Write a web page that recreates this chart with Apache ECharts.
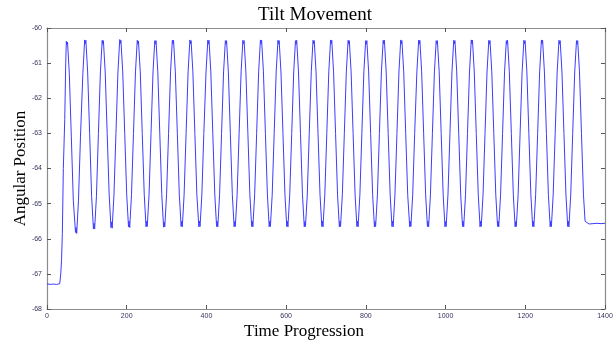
<!DOCTYPE html>
<html>
<head>
<meta charset="utf-8">
<script src="https://cdn.jsdelivr.net/npm/echarts@6/dist/echarts.min.js"></script>
<style>
  html, body { margin: 0; padding: 0; background: #fff; }
  #chart { width: 615px; height: 345px; }
</style>
</head>
<body>
<div id="chart"></div>
<script>
// time samples (x) and tilt angle (y), one line per oscillation
const time = [
  0, 8, 16, 24, 32, 34.5, 36.5, 38.5, 41, 44.5, 47,
  48.5, 50, 51.5, 56, 61, 66, 71.5, 73, 74.5, 79, 84, 90,
  94.5, 96, 97.5, 102, 107, 112, 116.5, 118, 119.5, 124, 129, 134,
  138.5, 140, 141.5, 146, 151, 156, 160.5, 162, 163.5, 168, 173, 178,
  182.5, 184, 185.5, 190, 195, 200, 204.5, 206, 207.5, 212, 217, 222,
  226.5, 228, 229.5, 234, 239, 244, 248.5, 250, 251.5, 256, 261, 266,
  270.5, 272, 273.5, 278, 283, 288, 292.5, 294, 295.5, 300, 305, 310,
  314.5, 316, 317.5, 322, 327, 332, 336.5, 338, 339.5, 344, 349, 354,
  358.5, 360, 361.5, 366, 371, 376, 381, 382.5, 384, 388.5, 393.5, 399,
  403.5, 405, 406.5, 411, 416, 421, 425.5, 427, 428.5, 433, 438, 443,
  447.5, 449, 450.5, 455, 460, 465, 469.5, 471, 472.5, 477, 482, 487,
  491.5, 493, 494.5, 499, 504, 509, 513.5, 515, 516.5, 521, 526, 531,
  535.5, 537, 538.5, 543, 548, 553, 557.5, 559, 560.5, 565, 570, 575,
  579.5, 581, 582.5, 587, 592, 597, 601.5, 603, 604.5, 609, 614, 619,
  623.5, 625, 626.5, 631, 636, 641, 645.5, 647, 648.5, 653, 658, 663,
  667.5, 669, 670.5, 675, 680, 685, 689.5, 691, 692.5, 697, 702, 707,
  711.5, 713, 714.5, 719, 724, 729, 733.5, 735, 736.5, 741, 746, 751,
  755.5, 757, 758.5, 763, 768, 773, 777.5, 779, 780.5, 785, 790, 795,
  799.5, 801, 802.5, 807, 812, 817, 821.5, 823, 824.5, 829, 834, 839,
  843.5, 845, 846.5, 851, 856, 861, 865.5, 867, 868.5, 873, 878, 883,
  887.5, 889, 890.5, 895, 900, 905, 910, 911.5, 913, 917.5, 922.5, 928,
  932.5, 934, 935.5, 940, 945, 950, 954.5, 956, 957.5, 962, 967, 972,
  976.5, 978, 979.5, 984, 989, 994, 998.5, 1000, 1001.5, 1006, 1011, 1016,
  1020.5, 1022, 1023.5, 1028, 1033, 1038, 1042.5, 1044, 1045.5, 1050, 1055, 1060,
  1064.5, 1066, 1067.5, 1072, 1077, 1082, 1086.5, 1088, 1089.5, 1094, 1099, 1104,
  1108.5, 1110, 1111.5, 1116, 1121, 1126, 1130.5, 1132, 1133.5, 1138, 1143, 1148,
  1152.5, 1154, 1155.5, 1160, 1165, 1170, 1174.5, 1176, 1177.5, 1182, 1187, 1192,
  1196.5, 1198, 1199.5, 1204, 1209, 1214, 1218.5, 1220, 1221.5, 1226, 1231, 1236,
  1240.5, 1242, 1243.5, 1248, 1253, 1258, 1262.5, 1264, 1265.5, 1270, 1275, 1280,
  1284.5, 1286, 1287.5, 1292, 1297, 1302, 1306.5, 1308, 1309.5, 1314, 1319, 1324,
  1328.5, 1330, 1331.5, 1336, 1341, 1346, 1350,
  1355, 1360, 1365, 1370, 1375, 1380, 1385, 1390, 1395, 1400
];

const angle = [
  -67.28, -67.3, -67.29, -67.3, -67.28, -67.0, -66.6, -65.85, -64.0, -62.6, -61.0,
  -60.38, -60.48, -60.4, -61.3, -63.1, -64.9, -65.82, -65.68, -65.85, -64.9, -63.1, -61.3,
  -60.34, -60.45, -60.35, -61.25, -63.0, -64.8, -65.72, -65.56, -65.72, -64.8, -63.0, -61.25,
  -60.35, -60.46, -60.36, -61.25, -63.0, -64.75, -65.68, -65.52, -65.7, -64.75, -63.0, -61.25,
  -60.33, -60.44, -60.35, -61.25, -63.0, -64.75, -65.66, -65.5, -65.68, -64.75, -63.0, -61.25,
  -60.35, -60.46, -60.37, -61.25, -63.0, -64.75, -65.66, -65.5, -65.65, -64.75, -63.0, -61.25,
  -60.36, -60.46, -60.36, -61.25, -63.0, -64.75, -65.67, -65.52, -65.66, -64.75, -63.0, -61.25,
  -60.35, -60.45, -60.35, -61.25, -63.0, -64.75, -65.65, -65.5, -65.66, -64.75, -63.0, -61.25,
  -60.34, -60.45, -60.36, -61.25, -63.0, -64.75, -65.66, -65.5, -65.65, -64.75, -63.0, -61.25,
  -60.35, -60.46, -60.35, -61.25, -63.0, -64.75, -65.65, -65.5, -65.66, -64.75, -63.0, -61.25,
  -60.36, -60.46, -60.36, -61.25, -63.0, -64.75, -65.66, -65.51, -65.65, -64.75, -63.0, -61.25,
  -60.35, -60.45, -60.36, -61.25, -63.0, -64.75, -65.65, -65.5, -65.66, -64.75, -63.0, -61.25,
  -60.34, -60.45, -60.35, -61.25, -63.0, -64.75, -65.66, -65.5, -65.65, -64.75, -63.0, -61.25,
  -60.35, -60.46, -60.36, -61.25, -63.0, -64.75, -65.65, -65.5, -65.66, -64.75, -63.0, -61.25,
  -60.36, -60.46, -60.35, -61.25, -63.0, -64.75, -65.66, -65.51, -65.65, -64.75, -63.0, -61.25,
  -60.35, -60.45, -60.36, -61.25, -63.0, -64.75, -65.65, -65.5, -65.66, -64.75, -63.0, -61.25,
  -60.34, -60.45, -60.35, -61.25, -63.0, -64.75, -65.66, -65.5, -65.65, -64.75, -63.0, -61.25,
  -60.35, -60.46, -60.36, -61.25, -63.0, -64.75, -65.65, -65.5, -65.66, -64.75, -63.0, -61.25,
  -60.36, -60.46, -60.36, -61.25, -63.0, -64.75, -65.66, -65.51, -65.65, -64.75, -63.0, -61.25,
  -60.35, -60.45, -60.35, -61.25, -63.0, -64.75, -65.65, -65.5, -65.66, -64.75, -63.0, -61.25,
  -60.34, -60.45, -60.36, -61.25, -63.0, -64.75, -65.66, -65.5, -65.65, -64.75, -63.0, -61.25,
  -60.35, -60.46, -60.35, -61.25, -63.0, -64.75, -65.65, -65.5, -65.66, -64.75, -63.0, -61.25,
  -60.36, -60.46, -60.36, -61.25, -63.0, -64.75, -65.66, -65.51, -65.65, -64.75, -63.0, -61.25,
  -60.35, -60.45, -60.36, -61.25, -63.0, -64.75, -65.65, -65.5, -65.66, -64.75, -63.0, -61.25,
  -60.34, -60.45, -60.35, -61.25, -63.0, -64.75, -65.66, -65.5, -65.65, -64.75, -63.0, -61.25,
  -60.35, -60.46, -60.36, -61.25, -63.0, -64.75, -65.65, -65.5, -65.66, -64.75, -63.0, -61.25,
  -60.36, -60.46, -60.35, -61.25, -63.0, -64.75, -65.66, -65.51, -65.65, -64.75, -63.0, -61.25,
  -60.35, -60.45, -60.36, -61.25, -63.0, -64.75, -65.65, -65.5, -65.66, -64.75, -63.0, -61.25,
  -60.34, -60.45, -60.35, -61.25, -63.0, -64.75, -65.66, -65.5, -65.65, -64.75, -63.0, -61.25,
  -60.35, -60.46, -60.36, -61.25, -63.0, -64.75, -65.65, -65.5, -65.66, -64.75, -63.0, -61.25,
  -60.36, -60.46, -60.36, -61.25, -63.0, -64.75, -65.5,
  -65.54, -65.58, -65.53, -65.57, -65.54, -65.56, -65.53, -65.57, -65.55, -65.56
];

const chart = echarts.init(document.getElementById('chart'));

const tickLabel = { fontSize: 7, color: '#33335c', fontFamily: 'Liberation Sans' };
const frame = { show: true, onZero: false, lineStyle: { color: '#8c8c8c', width: 1.2 } };
const ticks = { show: true, inside: true, length: 4, lineStyle: { color: '#555' } };
const nameStyle = { fontFamily: 'Liberation Serif', fontSize: 17, color: '#000' };

const option = {
  animation: false,
  backgroundColor: '#fff',
  title: {
    text: 'Tilt Movement',
    left: 310,
    textAlign: 'center',
    top: 1,
    textStyle: { fontFamily: 'Liberation Serif', fontSize: 19, fontWeight: 'normal', color: '#000' }
  },
  grid: { left: 47, right: 10, top: 28, bottom: 36, outerBoundsMode: 'none' },
  xAxis: [
    {
      type: 'value', min: 0, max: 1400, interval: 200,
      name: 'Time Progression', nameLocation: 'middle', nameGap: 14, nameMoveOverlap: false,
      nameTextStyle: Object.assign({ padding: [0, 44, 0, 0] }, nameStyle),
      axisLine: frame, axisTick: ticks, splitLine: { show: false },
      axisLabel: Object.assign({ margin: 4, formatter: v => String(v) }, tickLabel)
    },
    {
      type: 'value', position: 'top', min: 0, max: 1400, interval: 200,
      axisLine: frame, axisTick: ticks, splitLine: { show: false },
      axisLabel: { show: false }
    }
  ],
  yAxis: [
    {
      type: 'value', min: -68, max: -60, interval: 1,
      name: 'Angular Position', nameLocation: 'middle', nameGap: 18, nameMoveOverlap: false,
      nameTextStyle: nameStyle,
      axisLine: frame, axisTick: ticks, splitLine: { show: false },
      axisLabel: Object.assign({ margin: 5 }, tickLabel)
    },
    {
      type: 'value', position: 'right', min: -68, max: -60, interval: 1,
      axisLine: frame, axisTick: ticks, splitLine: { show: false },
      axisLabel: { show: false }
    }
  ],
  series: [
    {
      type: 'line',
      data: time.map((t, i) => [t, angle[i]]),
      showSymbol: false,
      lineStyle: { color: '#3c3cff', width: 1 },
      clip: true
    }
  ]
};

chart.setOption(option);
</script>
</body>
</html>
